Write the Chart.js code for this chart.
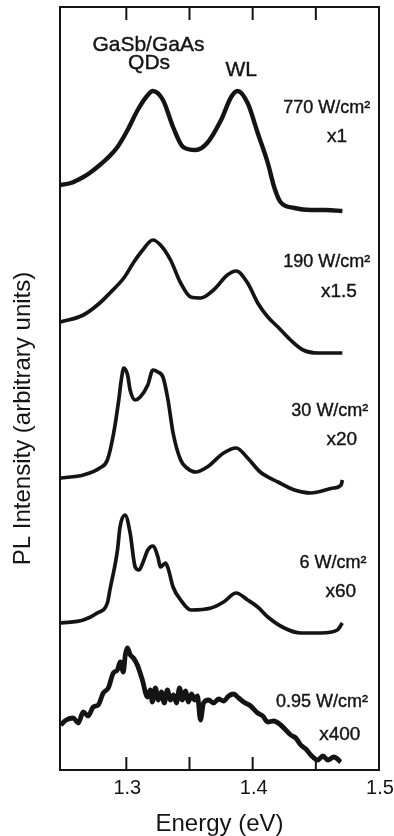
<!DOCTYPE html>
<html>
<head>
<meta charset="utf-8">
<script src="https://cdn.jsdelivr.net/npm/chart.js@4.4.1/dist/chart.umd.min.js"></script>
<style>
  body { margin: 0; background: #fff; }
  #wrap { width: 394px; height: 836px; }
</style>
</head>
<body>
<div id="wrap"><canvas id="plChart"></canvas></div>
<script>
// PL spectra, energies in eV, intensity in arbitrary units (curves already offset)
const e770 = [1.248, 1.256, 1.266, 1.271, 1.279, 1.286, 1.293, 1.301, 1.309, 1.317, 1.321, 1.329, 1.337, 1.345, 1.355, 1.364, 1.375, 1.383, 1.388, 1.396, 1.404, 1.412, 1.417, 1.422, 1.433, 1.446, 1.458, 1.471];
const pl770 = [58.5, 58.7, 59.3, 59.7, 60.5, 61.3, 62.3, 64.0, 66.0, 67.5, 67.9, 67.0, 64.3, 62.3, 62.0, 62.7, 65.0, 67.3, 67.9, 66.7, 63.7, 60.7, 58.3, 56.8, 56.2, 56.0, 56.0, 55.9];

const e190 = [1.248, 1.266, 1.279, 1.287, 1.298, 1.306, 1.313, 1.321, 1.327, 1.335, 1.343, 1.351, 1.359, 1.369, 1.380, 1.387, 1.396, 1.404, 1.412, 1.420, 1.430, 1.440, 1.452, 1.471];
const pl190 = [44.8, 45.5, 46.7, 47.7, 49.2, 50.8, 52.0, 53.0, 52.5, 51.0, 48.7, 47.3, 47.2, 48.0, 49.5, 49.9, 48.7, 46.7, 45.3, 44.3, 43.0, 42.0, 41.7, 41.7];

const e30 = [1.248, 1.266, 1.279, 1.285, 1.290, 1.294, 1.296, 1.298, 1.301, 1.303, 1.307, 1.311, 1.317, 1.321, 1.325, 1.329, 1.333, 1.337, 1.343, 1.348, 1.355, 1.364, 1.377, 1.387, 1.396, 1.406, 1.420, 1.433, 1.446, 1.464, 1.470, 1.471];
const pl30 = [29.2, 29.5, 30.2, 31.0, 33.7, 37.0, 39.0, 40.2, 39.5, 38.0, 37.0, 37.3, 38.5, 40.0, 39.8, 39.3, 37.0, 33.7, 31.0, 30.2, 29.8, 30.3, 31.7, 32.2, 31.2, 29.8, 28.8, 28.0, 27.7, 28.2, 28.5, 29.0];

const e6 = [1.248, 1.266, 1.277, 1.285, 1.287, 1.293, 1.295, 1.299, 1.303, 1.307, 1.310, 1.313, 1.317, 1.321, 1.325, 1.327, 1.331, 1.333, 1.337, 1.343, 1.351, 1.367, 1.377, 1.387, 1.396, 1.404, 1.412, 1.425, 1.438, 1.454, 1.467, 1.471];
const pl6 = [14.7, 15.0, 15.7, 16.7, 18.0, 22.0, 24.3, 25.5, 23.7, 20.3, 20.0, 20.7, 22.0, 22.4, 21.3, 20.3, 20.7, 20.2, 18.3, 17.0, 16.0, 16.2, 16.8, 17.7, 17.0, 16.3, 15.3, 14.2, 13.7, 13.7, 14.0, 14.7];

// weakest excitation is noisy: values
const e095 = [1.248, 1.2524, 1.258, 1.2619, 1.2659, 1.2698, 1.2738, 1.2778, 1.2817, 1.2857, 1.2897, 1.2929, 1.2952, 1.2976, 1.2992, 1.3008, 1.3032, 1.3056, 1.3087, 1.3127, 1.3167,
  1.319, 1.3206, 1.323, 1.3254, 1.3278, 1.330, 1.3325, 1.3349, 1.3373, 1.3397, 1.3421, 1.3444, 1.3468, 1.3492, 1.3516, 1.354, 1.3563,
  1.3587, 1.3611, 1.3651, 1.369, 1.373, 1.377, 1.381, 1.3849, 1.3889, 1.3929, 1.3984, 1.404, 1.408, 1.4119, 1.4167, 1.4222, 1.4262, 1.4302, 1.4341, 1.4381, 1.4421, 1.446, 1.4516, 1.4556, 1.4595, 1.4643, 1.4698];
const pl095 = [4.5, 5.0, 5.2, 4.7, 5.8, 5.4, 6.3, 6.5, 7.7, 8.2, 9.7, 10.0, 10.8, 9.8, 11.5, 12.2, 11.5, 11.2, 10.5, 9.0, 7.3,
  8.0, 6.8, 8.2, 7.0, 7.8, 6.7, 8.0, 7.0, 7.5, 6.7, 8.2, 7.0, 7.9, 6.8, 7.6, 7.0, 7.4,
  5.0, 6.7, 7.0, 6.7, 7.1, 6.9, 7.4, 7.6, 7.2, 6.8, 6.4, 5.7, 5.4, 4.8, 4.9, 4.5, 4.0, 3.5, 3.2, 2.5, 2.1, 1.5, 1.0, 1.4, 1.0, 1.3, 0.8];

const xTicks = [1.3, 1.35, 1.4, 1.45, 1.5];

// text notes: text, energy, level, font size
const noteText = ["GaSb/GaAs", "QDs", "WL", "770 W/cm²", "x1", "190 W/cm²", "x1.5", "30 W/cm²", "x20", "6 W/cm²", "x60", "0.95 W/cm²", "x400"];
const noteEnergy = [1.3175, 1.318, 1.391, 1.4587, 1.4667, 1.4587, 1.4683, 1.4611, 1.4706, 1.4635, 1.4698, 1.4548, 1.469];
const noteLevel = [72.5, 70.7, 70.0, 66.2, 63.3, 50.8, 47.8, 35.9, 33.0, 20.7, 17.8, 6.8, 3.5];
const noteSize = [21, 21, 21, 18, 19, 18, 19, 18, 19, 18, 19, 18, 19];

const FONT = "'Liberation Sans', Arial, sans-serif";
const INK = "#141414";

function toPoints(es, vs) {
  return es.map((e, i) => ({ x: e, y: vs[i] }));
}

function curve(es, vs, width) {
  return {
    data: toPoints(es, vs),
    borderColor: INK,
    borderWidth: width,
    pointRadius: 0,
    tension: 0.3,
    cubicInterpolationMode: "monotone",
    borderJoinStyle: "round",
    fill: false,
  };
}

// frame, inward ticks, notes and y title
const overlay = {
  id: "overlay",
  afterDraw(chart) {
    const { ctx, chartArea: a, scales } = chart;
    const x = scales.x, y = scales.y;
    ctx.save();
    ctx.strokeStyle = INK;
    ctx.lineWidth = 2;
    ctx.strokeRect(a.left, a.top, a.right - a.left, a.bottom - a.top);

    xTicks.forEach((v) => {
      const px = x.getPixelForValue(v);
      if (px >= a.right - 1) return;
      ctx.beginPath();
      ctx.moveTo(px, a.top);
      ctx.lineTo(px, a.top + 13);
      ctx.moveTo(px, a.bottom);
      ctx.lineTo(px, a.bottom - 13);
      ctx.stroke();
    });

    // x tick labels
    ctx.fillStyle = INK;
    ctx.textAlign = "center";
    ctx.textBaseline = "middle";
    ctx.font = "20px " + FONT;
    [1.3, 1.4, 1.5].forEach((v) => {
      ctx.fillText(v.toFixed(1), x.getPixelForValue(v) + 1, a.bottom + 18);
    });

    ctx.lineWidth = 0.4;
    noteText.forEach((t, i) => {
      ctx.font = noteSize[i] + "px " + FONT;
      const px = x.getPixelForValue(noteEnergy[i]);
      const py = y.getPixelForValue(noteLevel[i]);
      ctx.fillText(t, px, py);
      ctx.strokeText(t, px, py);
    });

    ctx.translate(23, (a.top + a.bottom) / 2 + 30);
    ctx.rotate(-Math.PI / 2);
    ctx.font = "24px " + FONT;
    ctx.fillText("PL Intensity (arbitrary units)", 0, 0);
    ctx.restore();
  },
};

new Chart(document.getElementById("plChart").getContext("2d"), {
  type: "line",
  data: {
    datasets: [
      curve(e770, pl770, 4.4),
      curve(e190, pl190, 3.7),
      curve(e30, pl30, 3.7),
      curve(e6, pl6, 3.7),
      curve(e095, pl095, 4.8),
    ],
  },
  options: {
    responsive: true,
    maintainAspectRatio: false,
    animation: false,
    layout: { padding: { left: 60, top: 7, right: 15, bottom: 0 } },
    plugins: { legend: { display: false }, tooltip: { enabled: false } },
    scales: {
      x: {
        type: "linear",
        min: 1.2475,
        max: 1.5,
        afterBuildTicks: (scale) => {
          scale.ticks = xTicks.map((v) => ({ value: v }));
        },
        afterFit: (scale) => {
          scale.height = 66;
        },
        grid: { display: false },
        border: { display: false },
        ticks: { display: false },
        title: {
          display: true,
          text: "Energy (eV)",
          color: INK,
          font: { family: FONT, size: 24, lineHeight: 1 },
          padding: 0,
        },
      },
      y: {
        display: false,
        min: 0,
        max: 76.3,
      },
    },
  },
  plugins: [overlay],
});
</script>
</body>
</html>
